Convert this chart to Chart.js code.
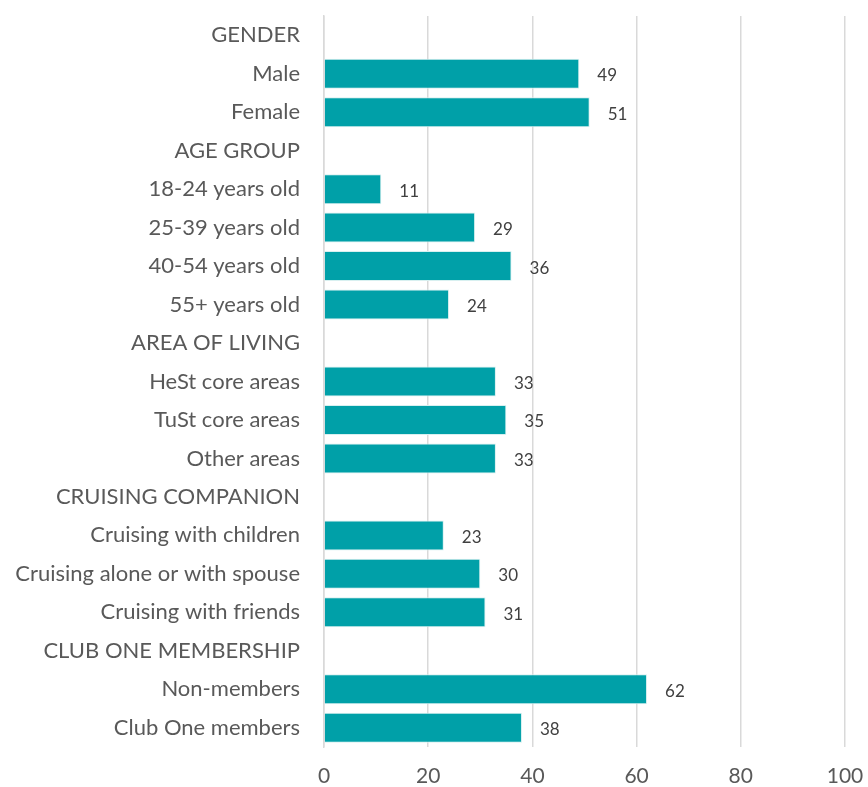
<!DOCTYPE html>
<html>
<head>
<meta charset="utf-8">
<script src="https://cdn.jsdelivr.net/npm/chart.js@4/dist/chart.umd.min.js"></script>
<style>
  html, body { margin: 0; padding: 0; background: #fff; }
  #wrap { width: 868px; height: 787px; }
</style>
</head>
<body>
<div id="wrap"><canvas id="bar-chart" width="868" height="787"></canvas></div>
<script>
// categories top to bottom, header rows have no value
var categories = [
  "GENDER", "Male", "Female",
  "AGE GROUP", "18-24 years old", "25-39 years old", "40-54 years old", "55+ years old",
  "AREA OF LIVING", "HeSt core areas", "TuSt core areas", "Other areas",
  "CRUISING COMPANION", "Cruising with children", "Cruising alone or with spouse", "Cruising with friends",
  "CLUB ONE MEMBERSHIP", "Non-members", "Club One members"
];
var shares = [
  null, 49, 51,
  null, 11, 29, 36, 24,
  null, 33, 35, 33,
  null, 23, 30, 31,
  null, 62, 38
];
var xTicks = [0, 20, 40, 60, 80, 100];

var fontFamily = "Lato, 'Open Sans', sans-serif";

// draws the number just right of each bar
var valueLabels = {
  id: 'valueLabels',
  afterDatasetsDraw: function(chart) {
    var ctx = chart.ctx;
    var meta = chart.getDatasetMeta(0);
    ctx.save();
    ctx.font = "17px " + fontFamily;
    ctx.fillStyle = "#404040";
    ctx.textAlign = "left";
    ctx.textBaseline = "middle";
    meta.data.forEach(function(bar, i) {
      if (shares[i] == null) return;
      ctx.fillText(shares[i], bar.x + 18, bar.y + 2);
    });
    ctx.restore();
  }
};

new Chart(document.getElementById("bar-chart"), {
  type: 'bar',
  data: {
    labels: categories,
    datasets: [{
      data: shares,
      backgroundColor: "#00A0A8",
      borderColor: "#d8f0f0",
      borderWidth: 1,
      barPercentage: 0.78,
      categoryPercentage: 1
    }]
  },
  options: {
    indexAxis: 'y',
    responsive: false,
    animation: false,
    layout: { padding: { top: 16, right: 23, bottom: 0, left: 0 } },
    plugins: {
      legend: { display: false },
      tooltip: { enabled: false }
    },
    scales: {
      x: {
        min: 0,
        max: 100,
        afterBuildTicks: function(scale) {
          scale.ticks = xTicks.map(function(v) { return { value: v }; });
        },
        afterFit: function(scale) {
          scale.height = 40;
          scale.paddingLeft = 0;
          scale.paddingRight = 0;
        },
        grid: { color: "#d9d9d9", lineWidth: 1.5, drawTicks: false },
        border: { display: false },
        ticks: {
          color: "#595959",
          font: { family: fontFamily, size: 21 },
          padding: 17,
          maxRotation: 0
        }
      },
      y: {
        afterFit: function(scale) {
          scale.width = 324;
          scale.paddingTop = 0;
          scale.paddingBottom = 0;
        },
        grid: { display: false, drawTicks: false },
        border: { display: true, color: "#d9d9d9", width: 1.5 },
        ticks: {
          color: "#595959",
          font: { family: fontFamily, size: 22 },
          padding: 24,
          autoSkip: false
        }
      }
    }
  },
  plugins: [valueLabels]
});
</script>
</body>
</html>
